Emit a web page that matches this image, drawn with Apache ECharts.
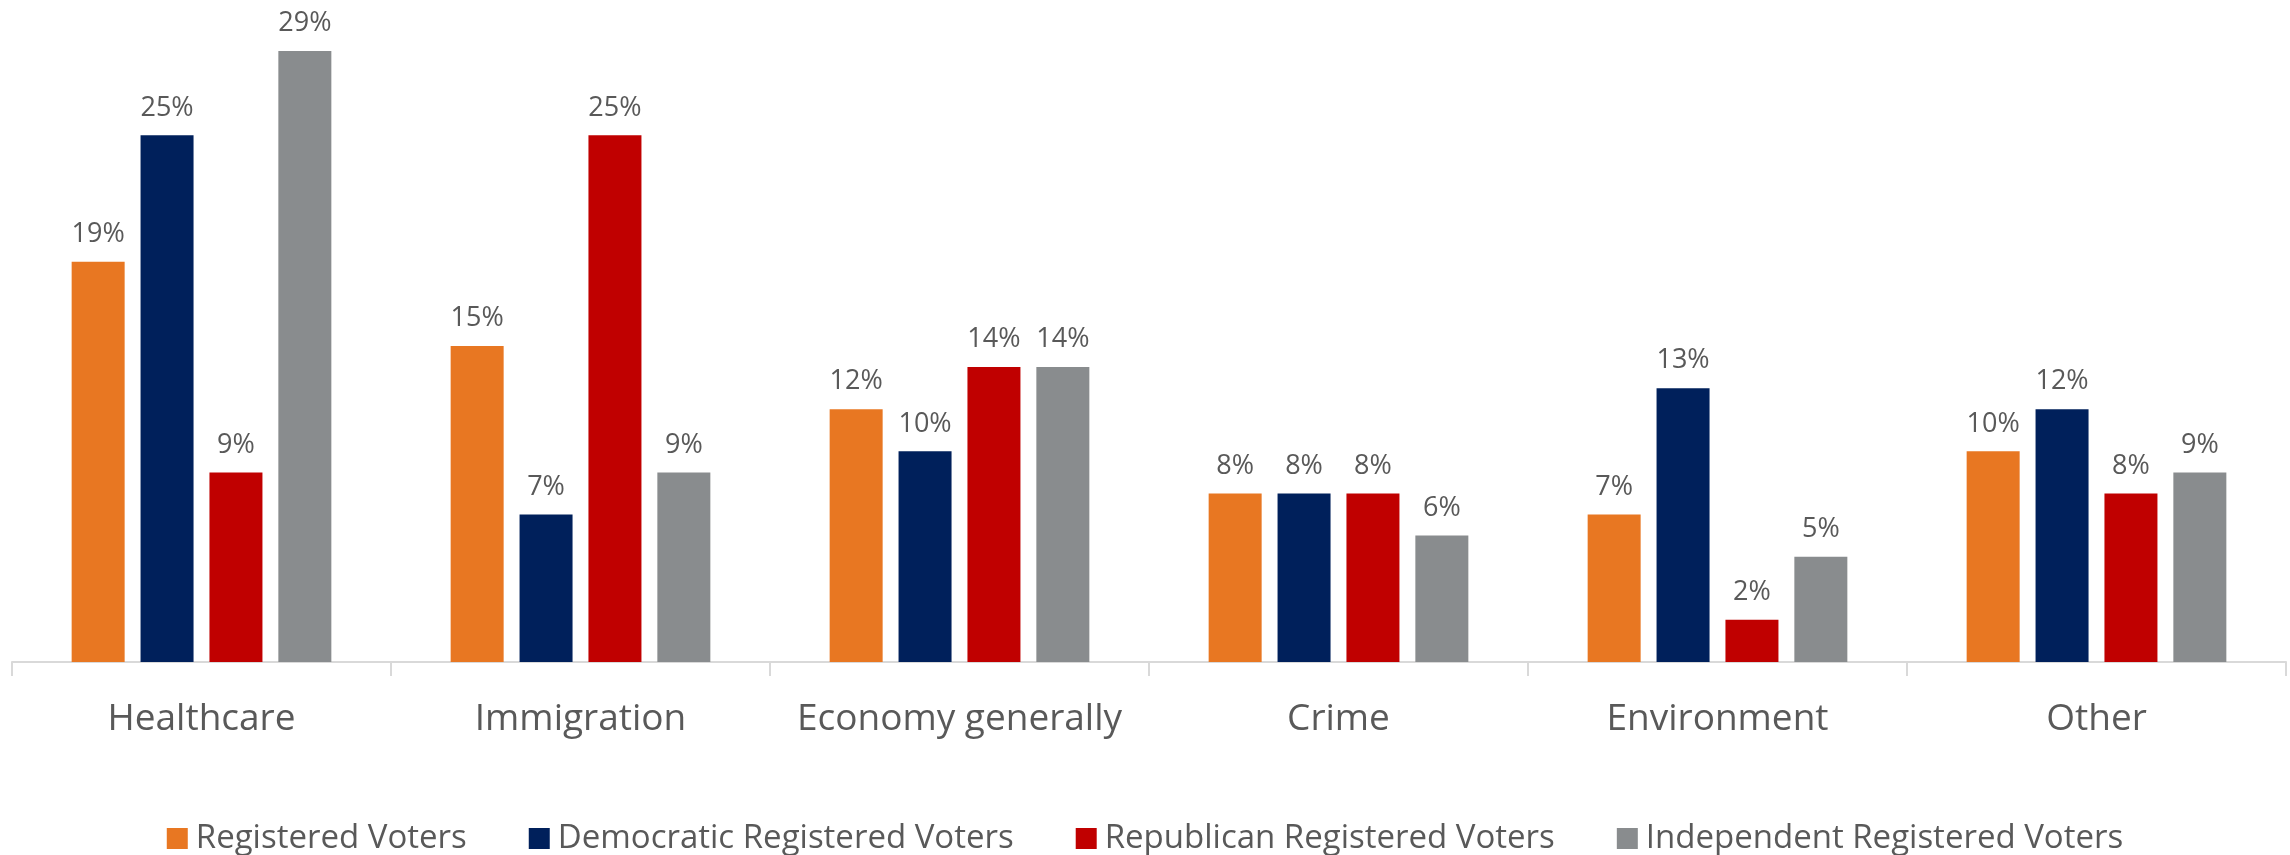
<!DOCTYPE html>
<html>
<head>
<meta charset="utf-8">
<script src="https://cdn.jsdelivr.net/npm/echarts@6/dist/echarts.min.js"></script>
<style>
html,body{margin:0;padding:0;background:#fff;}
#chart{width:2290px;height:855px;}
</style>
</head>
<body>
<div id="chart"></div>
<script>
const categories = ['Healthcare', 'Immigration', 'Economy generally', 'Crime', 'Environment', 'Other'];
const seriesNames = ['Registered Voters', 'Democratic Registered Voters', 'Republican Registered Voters', 'Independent Registered Voters'];
const registered = [19, 15, 12, 8, 7, 10];
const democratic = [25, 7, 10, 8, 13, 12];
const republican = [9, 25, 14, 8, 2, 8];
const independent = [29, 9, 14, 6, 5, 9];
const colors = ['#E87722', '#00205B', '#C00000', '#898C8E'];

const FONT = 'Open Sans';
const values = [registered, democratic, republican, independent];

const chart = echarts.init(document.getElementById('chart'), null, {renderer: 'canvas'});
chart.setOption({
  animation: false,
  color: colors,
  grid: {left: 12, right: 4, top: 30, bottom: 193},
  legend: {
    data: seriesNames,
    top: 817,
    left: 'center',
    icon: 'rect',
    itemWidth: 21,
    itemHeight: 21,
    itemGap: 62,
    textStyle: {fontFamily: FONT, fontSize: 33, color: '#595959', padding: [0, 0, 0, 3]}
  },
  xAxis: {
    type: 'category',
    data: categories,
    axisLine: {show: true, lineStyle: {color: '#D9D9D9', width: 2}},
    axisTick: {show: true, length: 14, lineStyle: {color: '#D9D9D9', width: 2}},
    axisLabel: {fontFamily: FONT, fontSize: 37, color: '#595959', margin: 39, interval: 0}
  },
  yAxis: {
    type: 'value',
    min: 0,
    max: 30,
    show: false,
    splitLine: {show: false}
  },
  series: seriesNames.map((name, i) => ({
    name: name,
    type: 'bar',
    data: values[i],
    barWidth: 53,
    barGap: '30%',
    itemStyle: {color: colors[i]},
    label: {
      show: true,
      position: 'top',
      distance: 14,
      formatter: '{c}%',
      fontFamily: FONT,
      fontSize: 27,
      color: '#595959'
    }
  }))
});
</script>
</body>
</html>
